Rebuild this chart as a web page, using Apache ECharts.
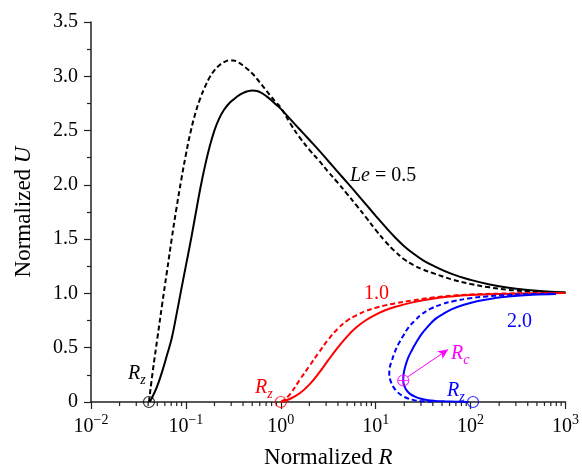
<!DOCTYPE html>
<html>
<head>
<meta charset="utf-8">
<script src="https://cdn.jsdelivr.net/npm/echarts@6/dist/echarts.min.js"></script>
<style>
html,body{margin:0;padding:0;background:#fff;}
#chart{width:582px;height:474px;}
</style>
</head>
<body>
<div id="chart"></div>
<script>
// ---- Data (R, U) ----
var le05Solid = [
  [0.0415, 0], [0.0437, 0.035], [0.0468, 0.09], [0.0501, 0.15], [0.0562, 0.28],
  [0.0631, 0.43], [0.0708, 0.585], [0.0794, 0.80], [0.0891, 1.03], [0.1, 1.256],
  [0.1122, 1.48], [0.1259, 1.72], [0.1413, 1.96], [0.1585, 2.17], [0.1778, 2.35],
  [0.1995, 2.50], [0.2239, 2.61], [0.2512, 2.69], [0.2818, 2.745], [0.3162, 2.785],
  [0.3548, 2.82], [0.3981, 2.845], [0.4467, 2.862], [0.5012, 2.87], [0.5623, 2.865],
  [0.631, 2.845], [0.7079, 2.815], [0.7943, 2.78], [0.8913, 2.74], [1.0, 2.70],
  [1.259, 2.605], [1.585, 2.51], [1.995, 2.415], [2.512, 2.32], [3.162, 2.22],
  [3.981, 2.12], [5.012, 2.02], [6.31, 1.92], [7.943, 1.817], [10, 1.715],
  [12.59, 1.615], [15.85, 1.52], [19.95, 1.435], [25.12, 1.365], [31.62, 1.305],
  [39.81, 1.258], [63.1, 1.18], [100, 1.125], [158.5, 1.083], [251.2, 1.052],
  [398.1, 1.032], [631, 1.018], [1000, 1.01]
];
var le05Dashed = [
  [0.0408, 0], [0.0447, 0.28], [0.0501, 0.59], [0.0562, 0.90], [0.0631, 1.20],
  [0.0708, 1.50], [0.0794, 1.78], [0.0891, 2.04], [0.1, 2.28], [0.1122, 2.49],
  [0.1259, 2.66], [0.1413, 2.795], [0.1585, 2.90], [0.1778, 2.99], [0.1995, 3.055],
  [0.2239, 3.10], [0.2512, 3.13], [0.2818, 3.145], [0.3162, 3.145], [0.3548, 3.13],
  [0.3981, 3.10], [0.4467, 3.065], [0.5012, 3.025], [0.5623, 2.975], [0.631, 2.92],
  [0.7079, 2.865], [0.7943, 2.81], [0.8913, 2.76], [1.0, 2.71], [1.259, 2.565],
  [1.585, 2.435], [1.995, 2.325], [2.512, 2.225], [3.162, 2.12], [3.981, 2.02],
  [5.012, 1.915], [6.31, 1.808], [7.943, 1.698], [10, 1.585], [12.59, 1.48],
  [15.85, 1.39], [19.95, 1.315], [25.12, 1.26], [31.62, 1.22], [39.81, 1.188],
  [63.1, 1.13], [100, 1.087], [158.5, 1.056], [251.2, 1.033], [398.1, 1.02],
  [631, 1.01], [1000, 1.005]
];
var le10Solid = [
  [1.0, 0], [1.259, 0.03], [1.585, 0.08], [1.995, 0.16], [2.512, 0.265],
  [3.162, 0.385], [3.981, 0.50], [5.012, 0.605], [6.31, 0.69], [7.943, 0.755],
  [10, 0.805], [12.59, 0.845], [15.85, 0.875], [25.12, 0.92], [39.81, 0.952],
  [63.1, 0.972], [100, 0.985], [199.5, 0.995], [398.1, 1.0], [1000, 1.003]
];
var le10Dashed = [
  [1.0, 0], [1.122, 0.03], [1.259, 0.075], [1.585, 0.205], [1.995, 0.33],
  [2.512, 0.455], [3.162, 0.575], [3.981, 0.675], [5.012, 0.75], [6.31, 0.80],
  [7.943, 0.84], [10, 0.868], [12.59, 0.89], [15.85, 0.908], [25.12, 0.938],
  [39.81, 0.962], [63.1, 0.98], [100, 0.99], [199.5, 0.998], [398.1, 1.002],
  [1000, 1.005]
];
var le20Solid = [
  [95, 0], [70, 0.003], [53.5, 0.006], [42, 0.01], [35.7, 0.016], [30, 0.03],
  [25.9, 0.05], [23, 0.075], [21.2, 0.107], [20.0, 0.15], [19.5, 0.198],
  [19.7, 0.26], [20.4, 0.32], [21.8, 0.40], [23.9, 0.472], [26.8, 0.55],
  [30.4, 0.625], [35.5, 0.695], [42.0, 0.761], [51, 0.81], [62.8, 0.853],
  [85, 0.895], [119.7, 0.93], [180, 0.957], [267, 0.975], [450, 0.988], [794, 0.995]
];
var le20Dashed = [
  [39.8, 0.003], [30, 0.008], [25.9, 0.015], [21.5, 0.035], [18.8, 0.061],
  [16.8, 0.095], [15.4, 0.137], [14.4, 0.19], [13.9, 0.25], [14.0, 0.31],
  [14.8, 0.381], [15.9, 0.46], [17.34, 0.533], [19.5, 0.61], [22.1, 0.686],
  [25.9, 0.75], [30.4, 0.807], [38, 0.86], [49.3, 0.899], [67, 0.93],
  [94, 0.953], [140, 0.97], [224, 0.984], [400, 0.993], [794, 0.998]
];
var rzBlack = [[0.0408, 0]];
var rzRed = [[1.0, 0]];
var rzBlue = [[106, 0]];
var rcPoint = [[19.5, 0.198]];
var rcArrow = [[21.8, 0.232], [58, 0.484]];

var xTickLabels = {'-2': '−2', '-1': '−1', '0': '0', '1': '1', '2': '2', '3': '3'};
var yTickLabels = ['0', '0.5', '1.0', '1.5', '2.0', '2.5', '3.0', '3.5'];
var minorMultipliers = [2, 3, 4, 5, 6, 7, 8, 9];
var minorDecades = [0.01, 0.1, 1, 10, 100];

var xMinor = [];
minorDecades.forEach(function (d) {
  minorMultipliers.forEach(function (m) { xMinor.push([m * d, 0]); });
});

var FONT = 'Liberation Serif';
var AX = '#222';

var chart = echarts.init(document.getElementById('chart'), null, {renderer: 'canvas'});

function subText(main, sub, color) {
  return {
    text: '{r|' + main + '}{s|' + sub + '}',
    rich: {
      r: {fontFamily: FONT, fontStyle: 'italic', fontSize: 20, lineHeight: 20, verticalAlign: 'top', fill: color},
      s: {fontFamily: FONT, fontStyle: 'italic', fontSize: 14, lineHeight: 14, padding: [12, 0, 0, 0], fill: color}
    }
  };
}

function lineSeries(data, color, dashed) {
  return {
    type: 'line', data: data, showSymbol: false, smooth: 0.4, clip: false,
    lineStyle: {color: color, width: 2, type: dashed ? [5, 3] : 'solid'}
  };
}

var option = {
  animation: false,
  backgroundColor: '#fff',
  grid: {left: 91, right: 14, top: 22, bottom: 69, containLabel: false},
  xAxis: {
    type: 'log',
    logBase: 10,
    min: 0.01,
    max: 1000,
    name: 'Normalized {i|R}',
    nameLocation: 'middle',
    nameGap: 44,
    nameTextStyle: {
      fontFamily: FONT, fontSize: 23, color: '#000',
      rich: {i: {fontFamily: FONT, fontSize: 23, fontStyle: 'italic', color: '#000'}}
    },
    axisLine: {show: true, lineStyle: {color: AX, width: 1.5}},
    axisTick: {show: true, inside: false, length: 7, lineStyle: {color: AX, width: 1.2}},
    minorTick: {show: false},
    splitLine: {show: false},
    axisLabel: {
      margin: 11,
      formatter: function (v) {
        var e = Math.round(Math.log(v) / Math.LN10);
        return '{b|10}{s|' + xTickLabels[String(e)] + '}';
      },
      rich: {
        b: {fontFamily: FONT, fontSize: 20, lineHeight: 24, verticalAlign: 'bottom', color: '#000', padding: [4, 0, 0, 0]},
        s: {fontFamily: FONT, fontSize: 14, lineHeight: 14, verticalAlign: 'top', color: '#000'}
      }
    }
  },
  yAxis: {
    type: 'value',
    min: 0,
    max: 3.5,
    interval: 0.5,
    name: 'Normalized {i|U}',
    nameLocation: 'middle',
    nameGap: 56,
    nameTextStyle: {
      fontFamily: FONT, fontSize: 23, color: '#000',
      rich: {i: {fontFamily: FONT, fontSize: 23, fontStyle: 'italic', color: '#000'}}
    },
    axisLine: {show: true, lineStyle: {color: AX, width: 1.5}},
    axisTick: {show: true, inside: false, length: 7, lineStyle: {color: AX, width: 1.2}},
    minorTick: {show: true, splitNumber: 2, length: 4, lineStyle: {color: AX, width: 1.2}},
    splitLine: {show: false},
    axisLabel: {
      margin: 13,
      fontFamily: FONT, fontSize: 20, color: '#000',
      formatter: function (v) { return yTickLabels[Math.round(v / 0.5)]; }
    }
  },
  series: [
    lineSeries(le05Dashed, '#000', true),
    lineSeries(le05Solid, '#000', false),
    lineSeries(le10Dashed, '#ff0000', true),
    lineSeries(le10Solid, '#ff0000', false),
    lineSeries(le20Dashed, '#0000ff', true),
    lineSeries(le20Solid, '#0000ff', false),
    {type: 'scatter', data: rzBlack, symbol: 'circle', symbolSize: 11, clip: false, z: 5,
      itemStyle: {color: 'rgba(0,0,0,0)', borderColor: '#000', borderWidth: 1.2}},
    {type: 'scatter', data: rzRed, symbol: 'circle', symbolSize: 11, clip: false, z: 5,
      itemStyle: {color: 'rgba(0,0,0,0)', borderColor: '#ff0000', borderWidth: 1.2}},
    {type: 'scatter', data: rzBlue, symbol: 'circle', symbolSize: 11, clip: false, z: 5,
      itemStyle: {color: 'rgba(0,0,0,0)', borderColor: '#0000ff', borderWidth: 1.2}},
    {type: 'scatter', data: rcPoint, symbol: 'circle', symbolSize: 11, clip: false, z: 6,
      itemStyle: {color: 'rgba(0,0,0,0)', borderColor: '#ff00ff', borderWidth: 1.2},
      markLine: {
        silent: true, symbol: ['none', 'arrow'], symbolSize: [7, 10],
        label: {show: false},
        lineStyle: {color: '#ff00ff', type: 'solid', width: 1},
        data: [[{coord: rcArrow[0]}, {coord: rcArrow[1]}]]
      }},
    {type: 'scatter', data: rcPoint, symbol: 'path://M0,-5L0,5M-5,0L5,0', symbolSize: 10, clip: false, z: 6,
      itemStyle: {color: 'rgba(0,0,0,0)', borderColor: '#ff00ff', borderWidth: 1.2}},
    {type: 'custom', data: xMinor, clip: false, z: 4, silent: true,
      encode: {x: 0, y: 1},
      renderItem: function (params, api) {
        var p = api.coord([api.value(0), api.value(1)]);
        return {type: 'line', shape: {x1: p[0], y1: p[1], x2: p[0], y2: p[1] + 4},
          style: {stroke: AX, lineWidth: 1.2}};
      }}
  ],
  graphic: [
    {type: 'text', left: 128, top: 361, z: 10, style: subText('R', 'z', '#000')},
    {type: 'text', left: 255, top: 375, z: 10, style: subText('R', 'z', '#ff0000')},
    {type: 'text', left: 447, top: 378, z: 10, style: subText('R', 'z', '#0000ff')},
    {type: 'text', left: 451, top: 341, z: 10, style: subText('R', 'c', '#ff00ff')},
    {type: 'text', left: 364, top: 284, z: 10, style: {text: '1.0', fontFamily: FONT, fontSize: 20, fill: '#ff0000'}},
    {type: 'text', left: 507, top: 312, z: 10, style: {text: '2.0', fontFamily: FONT, fontSize: 20, fill: '#0000ff'}},
    {type: 'text', left: 350, top: 166, z: 10, style: {
      text: '{i|Le} = 0.5',
      fontFamily: FONT, fontSize: 20, fill: '#000',
      rich: {i: {fontFamily: FONT, fontSize: 20, fontStyle: 'italic', fill: '#000'}}
    }}
  ]
};
chart.setOption(option);
</script>
</body>
</html>
